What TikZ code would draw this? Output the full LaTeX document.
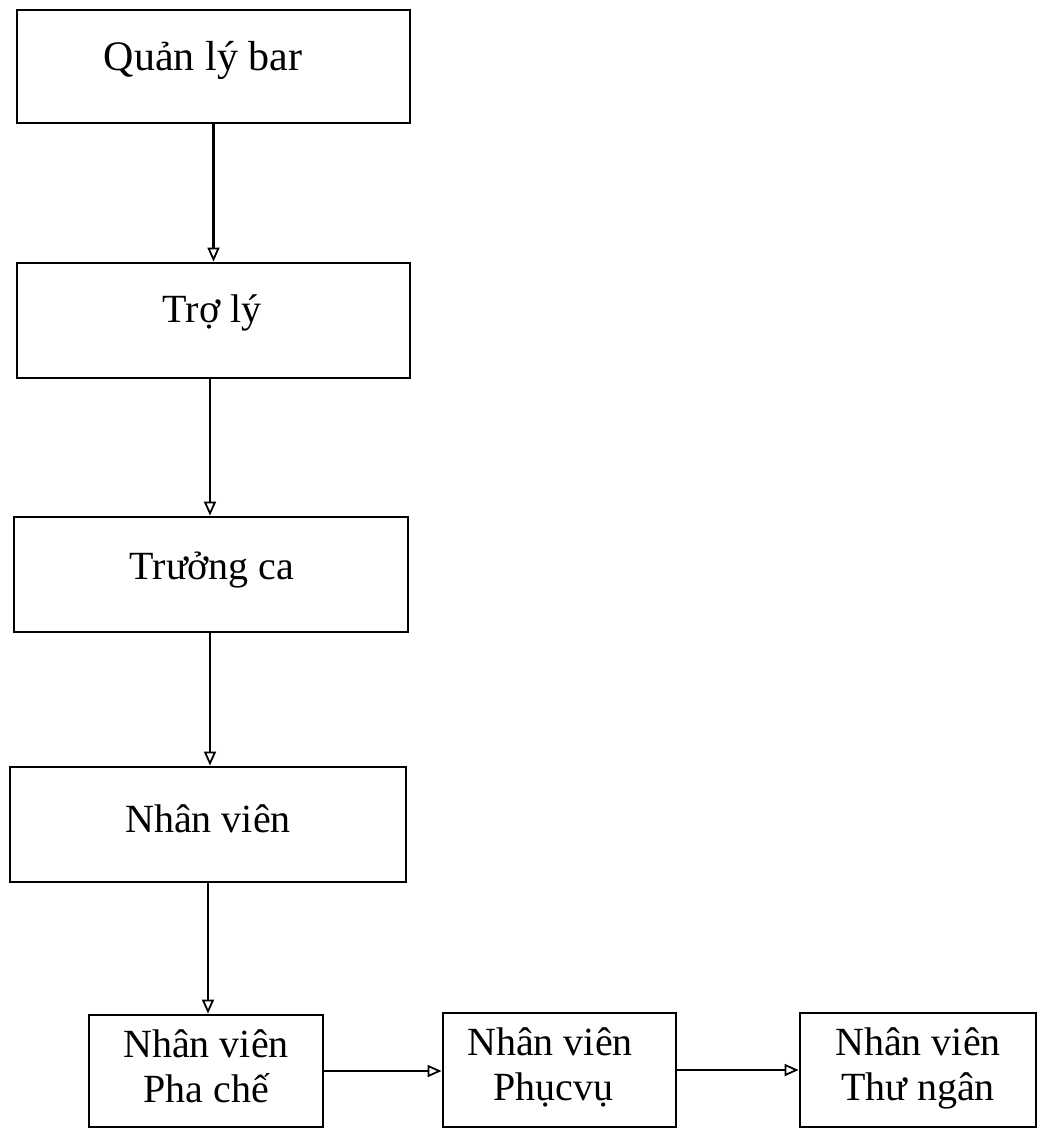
\documentclass[tikz,border=0pt]{standalone}
\usepackage{fontspec}
\setmainfont{Liberation Serif}
\usetikzlibrary{arrows.meta}
\begin{document}
\begin{tikzpicture}[x=1pt,y=-1pt,
  box/.style={draw, line width=2.8pt, inner sep=0pt, rectangle},
  lbl/.style={anchor=base, inner sep=0pt, font=\fontsize{40}{46}\selectfont},
  arr/.style={line width=2.2pt, -{Triangle[open, length=14pt, width=12pt, line width=1.8pt]}}]
\fill[white] (0,0) rectangle (1038,1128);
\useasboundingbox (0,0) rectangle (1038,1128);
% boxes
\node[box, minimum width=393pt, minimum height=113pt] (b1) at (213.5,66.5) {};
\node[box, minimum width=393pt, minimum height=115pt] (b2) at (213.5,320.5) {};
\node[box, minimum width=394pt, minimum height=115pt] (b3) at (211,574.5) {};
\node[box, minimum width=396pt, minimum height=115pt] (b4) at (208,824.5) {};
\node[box, minimum width=234pt, minimum height=112pt] (b5) at (206,1071) {};
\node[box, minimum width=233pt, minimum height=114pt] (b6) at (559.5,1070) {};
\node[box, minimum width=236pt, minimum height=114pt] (b7) at (918,1070) {};
% labels
\node[lbl, font=\fontsize{42}{48}\selectfont] (t1) at (203,70) {Quản lý bar};
\node[lbl] (t2) at (212,322) {Trợ lý};
\node[lbl] (t3) at (212,579) {Trưởng ca};
\node[lbl] (t4) at (208,832) {Nhân viên};
\node[lbl] (t5a) at (206,1057) {Nhân viên};
\node[lbl] (t5b) at (206,1102) {Pha chế};
\node[lbl] (t6a) at (550,1055) {Nhân viên};
\node[lbl] (t6b) at (553,1100) {Phụcvụ};
\node[lbl] (t7a) at (918,1055) {Nhân viên};
\node[lbl] (t7b) at (918,1100) {Thư ngân};
% connectors
\coordinate (c2) at (210,378);
\draw[arr] (b1.south) -- (b2.north);
\draw[arr] (b2.south -| c2) -- (c2 |- b3.north);
\draw[arr] (b3.south -| c2) -- (c2 |- b4.north);
\draw[arr] (b4.south) -- (b4.south |- b5.north);
\draw[arr] (b5.east) -- (b5.east -| b6.west);
\draw[arr] (b6.east) -- (b6.east -| b7.west);
\end{tikzpicture}
\end{document}
